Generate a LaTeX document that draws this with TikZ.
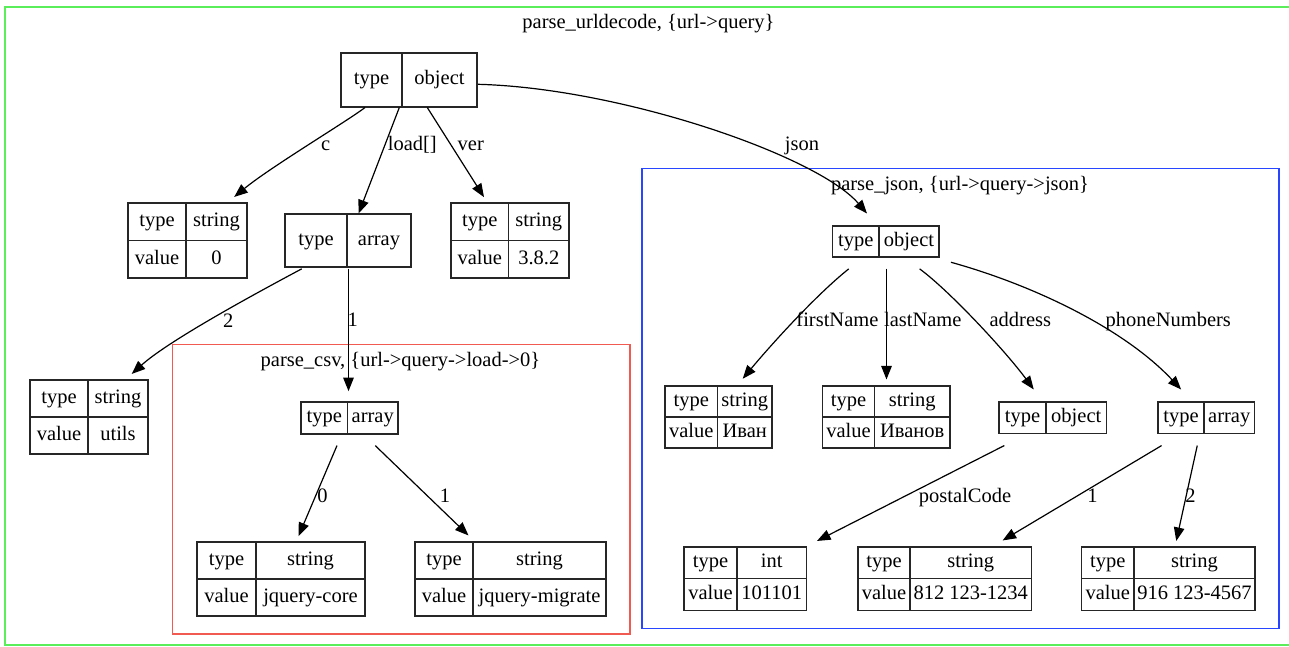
\documentclass[tikz,border=0pt]{standalone}
\usepackage{fontspec}
\setmainfont{Liberation Serif}
\usetikzlibrary{fit,calc,arrows.meta}
\definecolor{clgreen}{RGB}{90,238,90}
\definecolor{clred}{RGB}{240,90,80}
\definecolor{clblue}{RGB}{40,70,255}
\tikzset{
  recbox/.style={draw=black!85, line width=1.1pt, inner sep=0pt},
  recline/.style={draw=black!85, line width=1.1pt},
  celltext/.style={anchor=base, inner sep=0pt},
  lbl/.style={anchor=base, inner sep=0pt},
  edge/.style={draw=black, line width=1.2pt, -{Triangle[length=13.5pt,width=10.5pt]}},
  cluster/.style={line width=1.3pt},
}
\newcommand\recone[7]{%
  \node[recbox, fit={(#2,#3) (#4,#5)}] (#1) {};
  \draw[recline] (#6,#3) -- (#6,#5);
  \node[celltext] (#1a) at ({(#2+#6)/2},{(#3+#5)/2+4.8}) {type};
  \node[celltext] (#1b) at ({(#6+#4)/2},{(#3+#5)/2+4.8}) {#7};
}
\newcommand\rectwo[8]{%
  \node[recbox, fit={(#2,#3) (#4,#5)}] (#1) {};
  \draw[recline] (#6,#3) -- (#6,#5);
  \draw[recline] (#2,{(#3+#5)/2}) -- (#4,{(#3+#5)/2});
  \node[celltext] (#1a) at ({(#2+#6)/2},{(3*#3+#5)/4+4.8}) {type};
  \node[celltext] (#1b) at ({(#6+#4)/2},{(3*#3+#5)/4+4.8}) {#7};
  \node[celltext] (#1c) at ({(#2+#6)/2},{(#3+3*#5)/4+4.8}) {value};
  \node[celltext] (#1d) at ({(#6+#4)/2},{(#3+3*#5)/4+4.8}) {#8};
}
\begin{document}
\begin{tikzpicture}[x=1pt, y=-1pt, font=\fontsize{20.5}{24}\selectfont]
\clip (0,0) rectangle (1289,646);
% clusters
\draw[cluster, draw=clgreen] (5,7) rectangle (1296,645);
\node[lbl] (gtitle) at (648.5,28.5) {parse\_urldecode, \{url->query\}};
\draw[cluster, draw=clred] (172.5,344.5) rectangle (630,634);
\node[lbl] (rtitle) at (400.5,366.7) {parse\_csv, \{url->query->load->0\}};
\draw[cluster, draw=clblue] (642,168.5) rectangle (1279,628.3);
\node[lbl] (btitle) at (960,190) {parse\_json, \{url->query->json\}};
% records
\recone{root}{341}{53}{477}{107}{402}{object}
\rectwo{cstr}{128}{203}{247}{278}{186}{string}{0}
\recone{arr}{285}{214}{411}{267}{347}{array}
\rectwo{verstr}{451}{203}{569}{278}{508.5}{string}{3.8.2}
\rectwo{utils}{30}{380}{148}{454}{88}{string}{utils}
\recone{csvarr}{301}{402}{398}{434}{347.5}{array}
\rectwo{jcore}{197}{542}{365}{616}{256}{string}{jquery-core}
\rectwo{jmig}{415}{542}{606}{616}{473}{string}{jquery-migrate}
\recone{jsobj}{832.5}{226}{939}{257}{879}{object}
\rectwo{ivan}{665}{386}{772}{448}{717.5}{string}{Иван}
\rectwo{ivanov}{822.5}{386}{950}{448}{874.5}{string}{Иванов}
\recone{addr}{999}{402}{1106.5}{433.5}{1046}{object}
\recone{phone}{1158}{402}{1254.5}{433.5}{1204}{array}
\rectwo{nint}{684}{547}{806.5}{610.5}{737}{int}{101101}
\rectwo{n812}{858}{547}{1031.5}{610.5}{910}{string}{812 123-1234}
\rectwo{n916}{1081.5}{547}{1255}{610.5}{1134}{string}{916 123-4567}
% edges
\draw[edge] ($(root.south)+(-44,0)$) .. controls +(-20,15) and +(35.8,-29.5) .. ($(cstr.north)+(46.7,-5.5)$);
\draw[edge] ($(root.south)+(-9.7,0)$) -- ($(arr.north)+(10.6,0)$);
\draw[edge] ($(root.south)+(18.3,0)$) -- ($(verstr.north)+(-26,-5.3)$);
\draw[edge] ($(root.east)+(0.5,4.3)$) .. controls +(142.4,3.7) and +(-50,-58) .. ($(jsobj.north)+(-18.75,-12)$);
\draw[edge] ($(arr.south)+(-46.3,1.3)$) .. controls +(-60,32) and +(35,-31.5) .. ($(utils.north)+(42.7,-5.5)$);
\draw[edge] ($(arr.south)+(0.5,1)$) -- ($(csvarr.north)+(-1,-10.3)$);
\draw[edge] ($(csvarr.south)+(-12.5,11)$) -- ($(jcore.north)+(17.5,-5.3)$);
\draw[edge] ($(csvarr.south)+(25.7,11)$) -- ($(jmig.north)+(-42,-6)$);
\draw[edge] ($(jsobj.south)+(-37,11.3)$) .. controls +(-35,28) and +(25,-30) .. ($(ivan.north)+(24.2,-6.7)$);
\draw[edge] ($(jsobj.south)+(0.75,11)$) -- ($(ivanov.north)+(0.25,-6)$);
\draw[edge] ($(jsobj.south)+(33.85,11.3)$) .. controls +(30,22) and +(-28,-38) .. ($(addr.north)+(-19,-12)$);
\draw[edge] ($(jsobj.south)+(65.15,4.7)$) .. controls +(84.1,23.3) and +(-56.1,-60) .. ($(phone.north)+(-25.15,-12)$);
\draw[edge] ($(addr.south)+(-48.45,11.5)$) -- ($(nint.north)+(71.75,-5.5)$);
\draw[edge] ($(phone.south)+(-44.65,11.5)$) -- ($(n812.north)+(57.85,-6)$);
\draw[edge] ($(phone.south)+(-9,11.5)$) -- ($(n916.north)+(8,-5.5)$);
% edge labels
\node[lbl] (lc) at (325.7,150) {c};
\node[lbl] (lload) at (412.3,150) {load[]};
\node[lbl] (lver) at (470.8,150) {ver};
\node[lbl] (ljson) at (802,150) {json};
\node[lbl] (ltwo) at (228.3,327) {2};
\node[lbl] (lone) at (352.7,326) {1};
\node[lbl] (lzero) at (322.6,502) {0};
\node[lbl] (loneb) at (444.9,502) {1};
\node[lbl] (lfirst) at (837.4,326) {firstName};
\node[lbl] (llast) at (922.8,326) {lastName};
\node[lbl] (laddr) at (1020.3,326) {address};
\node[lbl] (lphone) at (1168.3,326) {phoneNumbers};
\node[lbl] (lpost) at (965.1,502.5) {postalCode};
\node[lbl] (lonec) at (1092.5,502.5) {1};
\node[lbl] (ltwoc) at (1190.4,502.5) {2};
\end{tikzpicture}
\end{document}
